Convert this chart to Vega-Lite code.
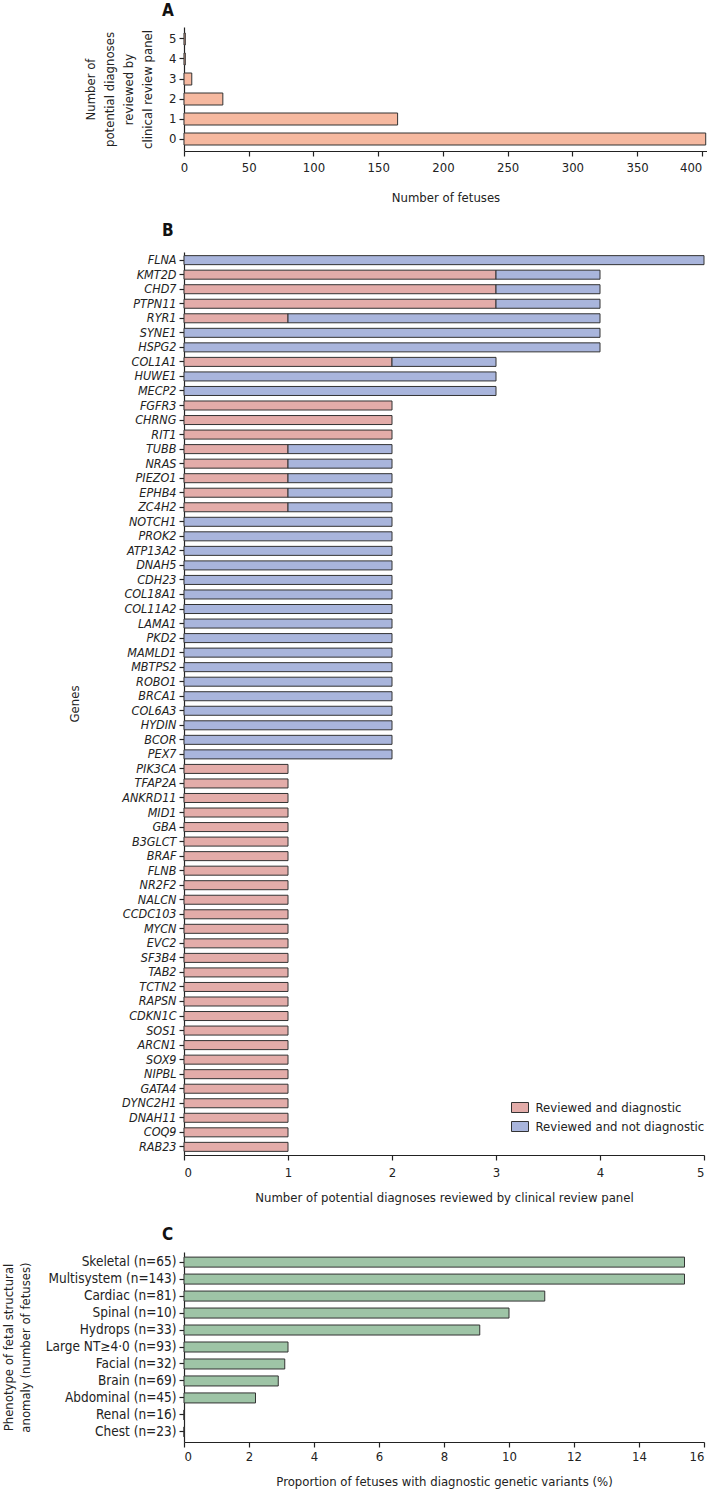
{
  "$schema": "https://vega.github.io/schema/vega-lite/v6.json",
  "background": "white",
  "padding": {"left": 2, "top": 2, "right": 0, "bottom": 2},
  "spacing": 18,
  "config": {
    "font": "Liberation Sans Narrow, DejaVu Sans Condensed, Liberation Sans, sans-serif",
    "view": {"stroke": null},
    "axis": {
      "grid": false,
      "domainColor": "#222",
      "tickColor": "#222",
      "labelColor": "#222",
      "titleColor": "#222",
      "labelFontSize": 13,
      "titleFontSize": 13,
      "titleFontWeight": "normal",
      "tickSize": 5,
      "labelPadding": 3,
      "domainWidth": 1.2,
      "tickWidth": 1.2
    },
    "title": {"fontSize": 17, "fontWeight": "bold", "anchor": "start", "frame": "group", "color": "#111"}
  },
  "vconcat": [
    {
      "title": {"text": "A", "dx": -22, "offset": 7},
      "width": 523,
      "height": 124,
      "data": {"values": [
        {"k": "0", "n": 403},
        {"k": "1", "n": 165},
        {"k": "2", "n": 30},
        {"k": "3", "n": 6},
        {"k": "4", "n": 1},
        {"k": "5", "n": 1}
      ]},
      "mark": {"type": "bar", "fill": "#f6b9a0", "stroke": "#333", "strokeWidth": 1},
      "encoding": {
        "y": {
          "field": "k", "type": "ordinal", "sort": "descending",
          "scale": {"paddingInner": 0.4, "paddingOuter": 0.3},
          "axis": {
            "title": ["Number of", "potential  diagnoses", "reviewed by", "clinical review panel"],
            "titleX": -100, "titleBaseline": "top", "titleLineHeight": 19,
            "labelAngle": 0
          }
        },
        "x": {
          "field": "n", "type": "quantitative",
          "scale": {"domain": [0, 404], "nice": false},
          "axis": {
            "values": [0, 50, 100, 150, 200, 250, 300, 350, 400],
            "labelAlign": {"condition": {"test": "datum.value == 400", "value": "right"}, "value": "center"},
            "labelPadding": 5,
            "title": "Number of fetuses", "titlePadding": 17
          }
        }
      }
    },
    {
      "title": {"text": "B", "dx": -22, "offset": 12},
      "width": 520,
      "height": 903,
      "data": {"values": [
        {"g": "FLNA", "s": "Reviewed and not diagnostic", "n": 5},
        {"g": "KMT2D", "s": "Reviewed and diagnostic", "n": 3},
        {"g": "KMT2D", "s": "Reviewed and not diagnostic", "n": 1},
        {"g": "CHD7", "s": "Reviewed and diagnostic", "n": 3},
        {"g": "CHD7", "s": "Reviewed and not diagnostic", "n": 1},
        {"g": "PTPN11", "s": "Reviewed and diagnostic", "n": 3},
        {"g": "PTPN11", "s": "Reviewed and not diagnostic", "n": 1},
        {"g": "RYR1", "s": "Reviewed and diagnostic", "n": 1},
        {"g": "RYR1", "s": "Reviewed and not diagnostic", "n": 3},
        {"g": "SYNE1", "s": "Reviewed and not diagnostic", "n": 4},
        {"g": "HSPG2", "s": "Reviewed and not diagnostic", "n": 4},
        {"g": "COL1A1", "s": "Reviewed and diagnostic", "n": 2},
        {"g": "COL1A1", "s": "Reviewed and not diagnostic", "n": 1},
        {"g": "HUWE1", "s": "Reviewed and not diagnostic", "n": 3},
        {"g": "MECP2", "s": "Reviewed and not diagnostic", "n": 3},
        {"g": "FGFR3", "s": "Reviewed and diagnostic", "n": 2},
        {"g": "CHRNG", "s": "Reviewed and diagnostic", "n": 2},
        {"g": "RIT1", "s": "Reviewed and diagnostic", "n": 2},
        {"g": "TUBB", "s": "Reviewed and diagnostic", "n": 1},
        {"g": "TUBB", "s": "Reviewed and not diagnostic", "n": 1},
        {"g": "NRAS", "s": "Reviewed and diagnostic", "n": 1},
        {"g": "NRAS", "s": "Reviewed and not diagnostic", "n": 1},
        {"g": "PIEZO1", "s": "Reviewed and diagnostic", "n": 1},
        {"g": "PIEZO1", "s": "Reviewed and not diagnostic", "n": 1},
        {"g": "EPHB4", "s": "Reviewed and diagnostic", "n": 1},
        {"g": "EPHB4", "s": "Reviewed and not diagnostic", "n": 1},
        {"g": "ZC4H2", "s": "Reviewed and diagnostic", "n": 1},
        {"g": "ZC4H2", "s": "Reviewed and not diagnostic", "n": 1},
        {"g": "NOTCH1", "s": "Reviewed and not diagnostic", "n": 2},
        {"g": "PROK2", "s": "Reviewed and not diagnostic", "n": 2},
        {"g": "ATP13A2", "s": "Reviewed and not diagnostic", "n": 2},
        {"g": "DNAH5", "s": "Reviewed and not diagnostic", "n": 2},
        {"g": "CDH23", "s": "Reviewed and not diagnostic", "n": 2},
        {"g": "COL18A1", "s": "Reviewed and not diagnostic", "n": 2},
        {"g": "COL11A2", "s": "Reviewed and not diagnostic", "n": 2},
        {"g": "LAMA1", "s": "Reviewed and not diagnostic", "n": 2},
        {"g": "PKD2", "s": "Reviewed and not diagnostic", "n": 2},
        {"g": "MAMLD1", "s": "Reviewed and not diagnostic", "n": 2},
        {"g": "MBTPS2", "s": "Reviewed and not diagnostic", "n": 2},
        {"g": "ROBO1", "s": "Reviewed and not diagnostic", "n": 2},
        {"g": "BRCA1", "s": "Reviewed and not diagnostic", "n": 2},
        {"g": "COL6A3", "s": "Reviewed and not diagnostic", "n": 2},
        {"g": "HYDIN", "s": "Reviewed and not diagnostic", "n": 2},
        {"g": "BCOR", "s": "Reviewed and not diagnostic", "n": 2},
        {"g": "PEX7", "s": "Reviewed and not diagnostic", "n": 2},
        {"g": "PIK3CA", "s": "Reviewed and diagnostic", "n": 1},
        {"g": "TFAP2A", "s": "Reviewed and diagnostic", "n": 1},
        {"g": "ANKRD11", "s": "Reviewed and diagnostic", "n": 1},
        {"g": "MID1", "s": "Reviewed and diagnostic", "n": 1},
        {"g": "GBA", "s": "Reviewed and diagnostic", "n": 1},
        {"g": "B3GLCT", "s": "Reviewed and diagnostic", "n": 1},
        {"g": "BRAF", "s": "Reviewed and diagnostic", "n": 1},
        {"g": "FLNB", "s": "Reviewed and diagnostic", "n": 1},
        {"g": "NR2F2", "s": "Reviewed and diagnostic", "n": 1},
        {"g": "NALCN", "s": "Reviewed and diagnostic", "n": 1},
        {"g": "CCDC103", "s": "Reviewed and diagnostic", "n": 1},
        {"g": "MYCN", "s": "Reviewed and diagnostic", "n": 1},
        {"g": "EVC2", "s": "Reviewed and diagnostic", "n": 1},
        {"g": "SF3B4", "s": "Reviewed and diagnostic", "n": 1},
        {"g": "TAB2", "s": "Reviewed and diagnostic", "n": 1},
        {"g": "TCTN2", "s": "Reviewed and diagnostic", "n": 1},
        {"g": "RAPSN", "s": "Reviewed and diagnostic", "n": 1},
        {"g": "CDKN1C", "s": "Reviewed and diagnostic", "n": 1},
        {"g": "SOS1", "s": "Reviewed and diagnostic", "n": 1},
        {"g": "ARCN1", "s": "Reviewed and diagnostic", "n": 1},
        {"g": "SOX9", "s": "Reviewed and diagnostic", "n": 1},
        {"g": "NIPBL", "s": "Reviewed and diagnostic", "n": 1},
        {"g": "GATA4", "s": "Reviewed and diagnostic", "n": 1},
        {"g": "DYNC2H1", "s": "Reviewed and diagnostic", "n": 1},
        {"g": "DNAH11", "s": "Reviewed and diagnostic", "n": 1},
        {"g": "COQ9", "s": "Reviewed and diagnostic", "n": 1},
        {"g": "RAB23", "s": "Reviewed and diagnostic", "n": 1}
      ]},
      "mark": {"type": "bar", "stroke": "#333", "strokeWidth": 1},
      "encoding": {
        "y": {
          "field": "g", "type": "nominal", "sort": null,
          "scale": {"paddingInner": 0.38, "paddingOuter": 0.25},
          "axis": {"title": "Genes", "labelFontStyle": "italic", "labelFontSize": 12.5, "titleX": -116, "titleBaseline": "top"}
        },
        "x": {
          "field": "n", "type": "quantitative", "stack": "zero",
          "scale": {"domain": [0, 5], "nice": false},
          "axis": {"values": [0, 1, 2, 3, 4, 5], "labelPadding": 6, "title": ["Number of potential diagnoses reviewed by clinical review panel", " "], "titleLineHeight": 4, "titlePadding": 12}
        },
        "color": {
          "field": "s", "type": "nominal",
          "scale": {"domain": ["Reviewed and diagnostic", "Reviewed and not diagnostic"], "range": ["#e3aca9", "#a9b5dc"]},
          "legend": {
            "title": null, "orient": "none", "legendX": 329.5, "legendY": 1074,
            "symbolType": "M-1.7,-1H1.7V1H-1.7Z", "symbolSize": 100,
            "symbolStrokeColor": "#333", "symbolStrokeWidth": 1, "symbolOpacity": 1,
            "labelFontSize": 13, "labelColor": "#222", "labelOffset": 9, "labelLimit": 0, "rowPadding": 4
          }
        }
      }
    },
    {
      "title": {"text": "C", "dx": -22, "offset": 8},
      "width": 520,
      "height": 190,
      "data": {"values": [
        {"p": "Skeletal (n=65)", "v": 15.4},
        {"p": "Multisystem (n=143)", "v": 15.4},
        {"p": "Cardiac (n=81)", "v": 11.1},
        {"p": "Spinal (n=10)", "v": 10.0},
        {"p": "Hydrops (n=33)", "v": 9.1},
        {"p": "Large NT≥4·0 (n=93)", "v": 3.2},
        {"p": "Facial (n=32)", "v": 3.1},
        {"p": "Brain (n=69)", "v": 2.9},
        {"p": "Abdominal (n=45)", "v": 2.2},
        {"p": "Renal (n=16)", "v": 0},
        {"p": "Chest (n=23)", "v": 0}
      ]},
      "mark": {"type": "bar", "fill": "#9ec4a6", "stroke": "#333", "strokeWidth": 1},
      "encoding": {
        "y": {
          "field": "p", "type": "nominal", "sort": null,
          "scale": {"paddingInner": 0.41, "paddingOuter": 0.3},
          "axis": {"title": ["Phenotype of fetal structural", "anomaly (number of fetuses)"], "titleX": -182, "titleBaseline": "top", "titleLineHeight": 17, "labelFontSize": 13.5}
        },
        "x": {
          "field": "v", "type": "quantitative",
          "scale": {"domain": [0, 16], "nice": false},
          "axis": {"values": [0, 2, 4, 6, 8, 10, 12, 14, 16], "title": "Proportion of fetuses with diagnostic genetic variants (%)", "titlePadding": 12}
        }
      }
    }
  ]
}
